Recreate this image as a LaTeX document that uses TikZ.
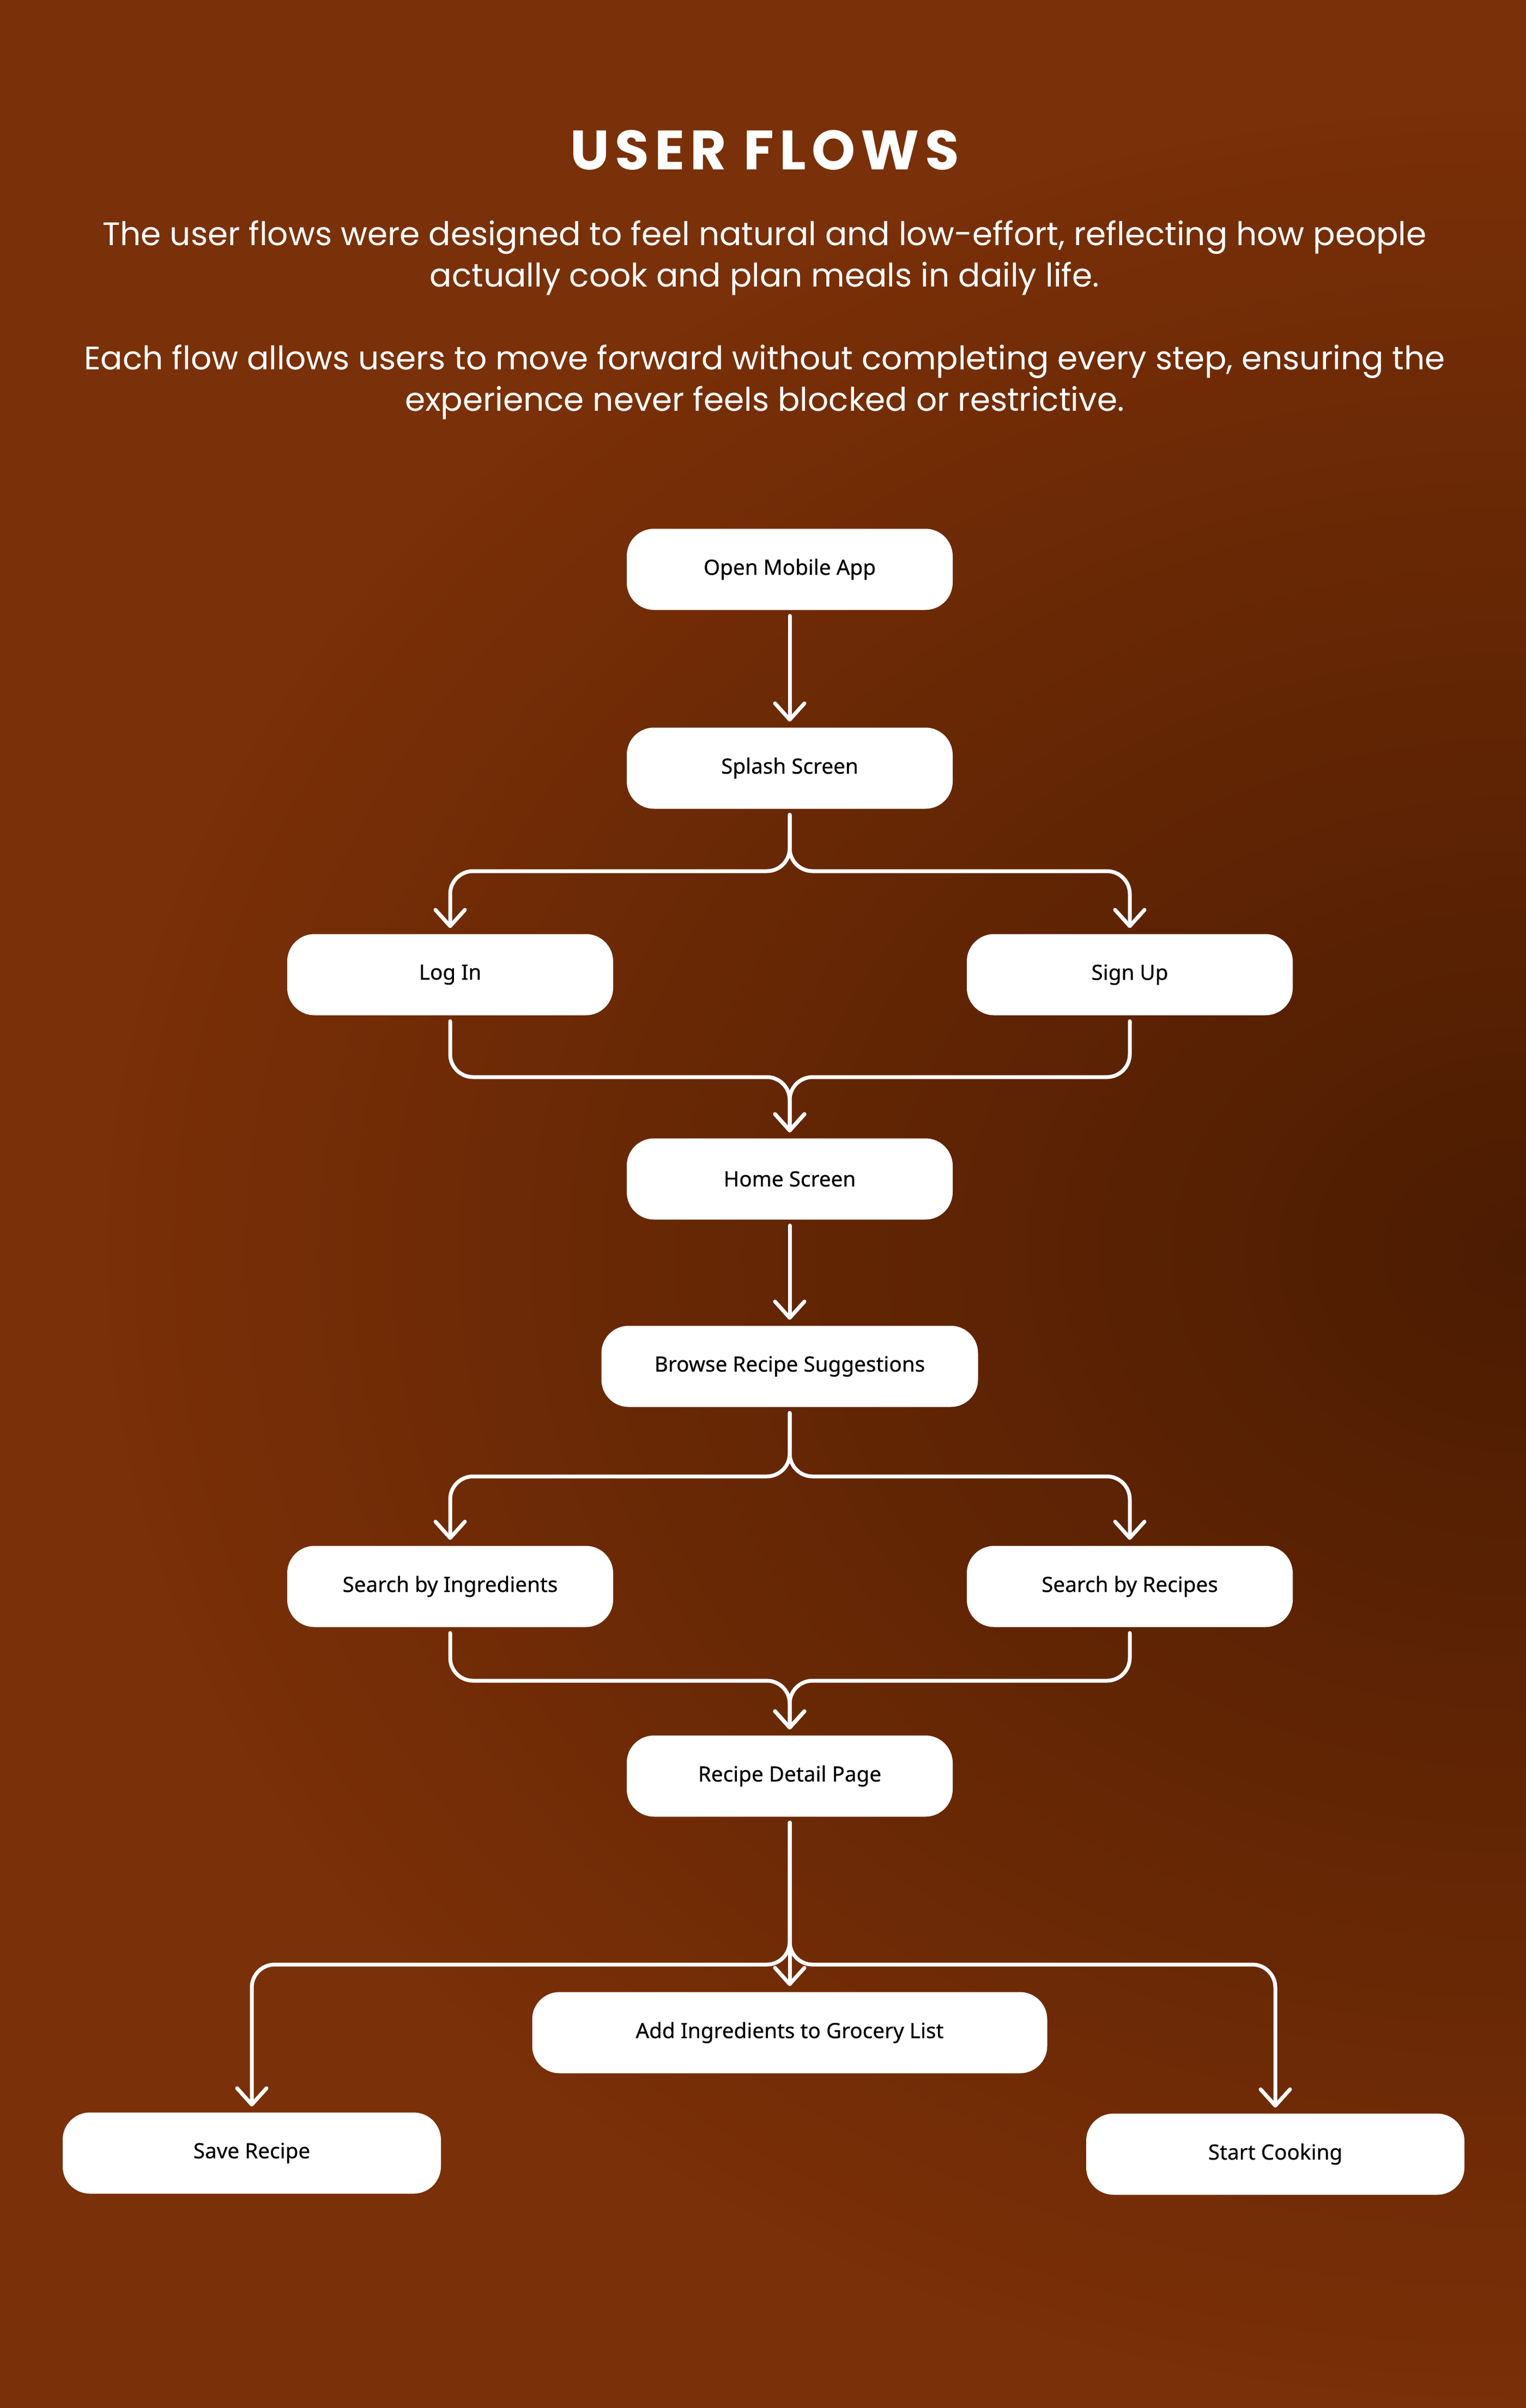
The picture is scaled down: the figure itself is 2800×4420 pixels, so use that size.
\documentclass[tikz,border=0pt]{standalone}
\usepackage{fontspec}
\setmainfont{Poppins}
\newfontfamily\labelfont[FakeBold=0.4]{Noto Sans}
\newfontfamily\headfont[LetterSpace=10]{Poppins}
\usepackage{tikz}
\usetikzlibrary{calc,positioning,arrows.meta,fadings}

\definecolor{bgtop}{RGB}{122,48,8}
\definecolor{bgmid}{RGB}{94,36,4}
\definecolor{bgdark}{RGB}{76,28,2}
\tikzfading[name=spot,inner color=transparent!0,outer color=transparent!100]

\begin{document}
\begin{tikzpicture}[x=0.1mm,y=-0.1mm,
	box/.style={fill=white,rounded corners=5mm,minimum width=59.8mm,minimum height=14.9mm,inner sep=0pt,outer sep=0pt,text=black,font=\labelfont\fontsize{11}{13}\selectfont},
	flow/.style={draw=white,line width=0.7mm,line cap=round,line join=round,rounded corners=4.2mm,-{Straight Barb[round,length=3mm,width=5.4mm]},shorten <=1.1mm,shorten >=1.1mm}]
	\useasboundingbox (0,0) rectangle (2800,4420);
	\shade[top color=bgtop,middle color=bgmid,bottom color=bgtop] (0,0) rectangle (2800,4420);
	\fill[bgdark,path fading=spot] (2800,2300) ellipse [x radius=260mm,y radius=210mm];

	\node(title) [text=white] at (1403,276) {\headfont\bfseries\fontsize{29}{35}\selectfont USER FLOWS};
	\node(p1) [text=white,align=center,font=\fontsize{17}{21.6}\selectfont] at (1403,473) {The user flows were designed to feel natural and low-effort, reflecting how people\\actually cook and plan meals in daily life.};
	\node(p2) [text=white,align=center,font=\fontsize{17}{21.6}\selectfont] at (1403,701) {Each flow allows users to move forward without completing every step, ensuring the\\experience never feels blocked or restrictive.};

	\node(1) [box] at (1449,1045) {Open Mobile App};
	\node(2) [box,below=21.6mm of 1] {Splash Screen};
	\node(3a) [box] at (826,1789) {Log In};
	\node(3b) [box] at (2073,1789) {Sign Up};
	\node(4) [box] at (1449,2164) {Home Screen};
	\node(5) [box,minimum width=69.1mm,below=19.5mm of 4] {Browse Recipe Suggestions};
	\node(6a) [box] at (826,2912) {Search by Ingredients};
	\node(6b) [box] at (2073,2912) {Search by Recipes};
	\node(7) [box] at (1449,3260) {Recipe Detail Page};
	\node(8a) [box,minimum width=69.4mm] at (462,3952) {Save Recipe};
	\node(8b) [box,minimum width=94.5mm] at (1449,3731) {Add Ingredients to Grocery List};
	\node(8c) [box,minimum width=69.4mm] at (2340,3954) {Start Cooking};

	\coordinate (m1) at ($(4.north)+(0,-112.5)$);
	\coordinate (m2) at ($(7.north)+(0,-100.5)$);
	\draw[flow] (1) -- (2);
	\draw[flow] (2.south) -- ++(0,114.5) -| (3a.north);
	\draw[flow] (2.south) -- ++(0,114.5) -| (3b.north);
	\draw[flow] (3a.south) |- (m1) -- (4.north);
	\draw[flow] (3b.south) |- (m1) -- (4.north);
	\draw[flow] (4) -- (5);
	\draw[flow] (5.south) -- ++(0,127.5) -| (6a.north);
	\draw[flow] (5.south) -- ++(0,127.5) -| (6b.north);
	\draw[flow] (6a.south) |- (m2) -- (7.north);
	\draw[flow] (6b.south) |- (m2) -- (7.north);
	\draw[flow] (7) -- (8b);
	\draw[flow] (7.south) -- ++(0,271.5) -| (8a.north);
	\draw[flow] (7.south) -- ++(0,271.5) -| (8c.north);
\end{tikzpicture}
\end{document}
